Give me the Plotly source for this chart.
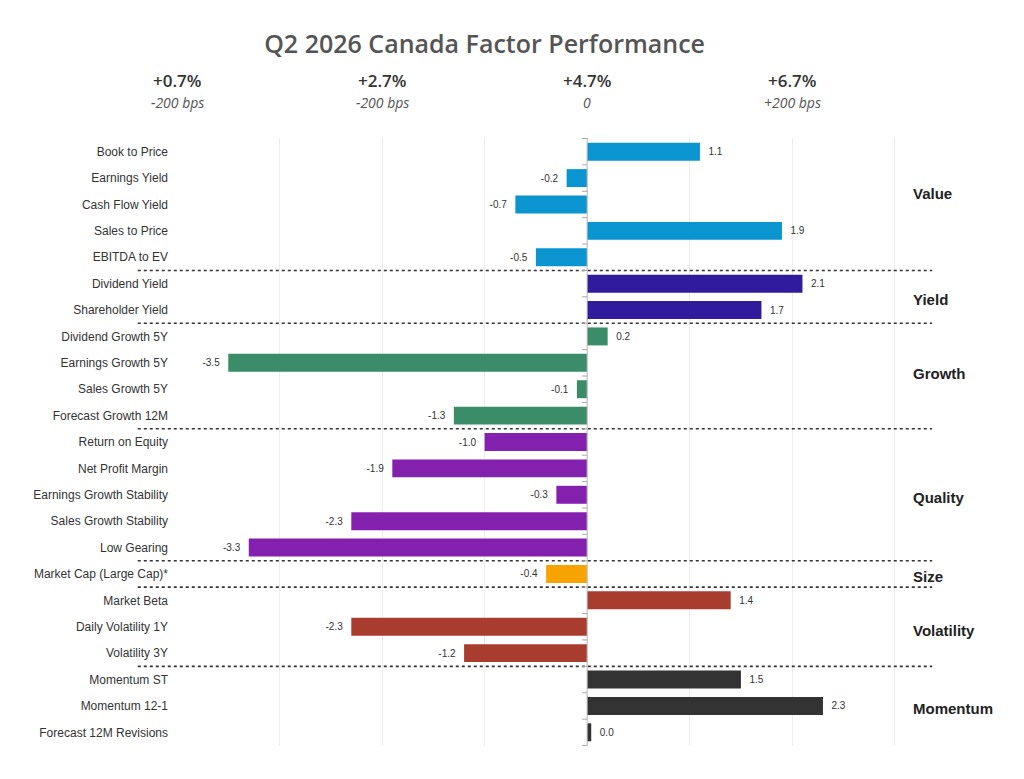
import plotly.graph_objects as go

# factor names, top to bottom
factors = [
    "Book to Price", "Earnings Yield", "Cash Flow Yield", "Sales to Price", "EBITDA to EV",
    "Dividend Yield", "Shareholder Yield",
    "Dividend Growth 5Y", "Earnings Growth 5Y", "Sales Growth 5Y", "Forecast Growth 12M",
    "Return on Equity", "Net Profit Margin", "Earnings Growth Stability", "Sales Growth Stability", "Low Gearing",
    "Market Cap (Large Cap)*",
    "Market Beta", "Daily Volatility 1Y", "Volatility 3Y",
    "Momentum ST", "Momentum 12-1", "Forecast 12M Revisions",
]
values = [
    1.1, -0.2, -0.7, 1.9, -0.5,
    2.1, 1.7,
    0.2, -3.5, -0.1, -1.3,
    -1.0, -1.9, -0.3, -2.3, -3.3,
    -0.4,
    1.4, -2.3, -1.2,
    1.5, 2.3, 0.04,
]
groups = ["Value", "Yield", "Growth", "Quality", "Size", "Volatility", "Momentum"]
group_sizes = [5, 2, 4, 5, 1, 3, 3]
group_colors = ["#0A94D0", "#2F1B9C", "#3A8D68", "#8420AE", "#F7A400", "#A83C2E", "#333333"]
label_pos = [1.6, 5.6, 8.4, 13.1, 16.1, 18.15, 21.1]

# scenario header over the x axis
header_x = [-4, -2, 0, 2]
header_top = ["+0.7%", "+2.7%", "+4.7%", "+6.7%"]
header_sub = ["-200 bps", "-200 bps", "0", "+200 bps"]

colors = []
for c, n in zip(group_colors, group_sizes):
    colors += [c] * n

labels = [("  " + f"{v:.1f}") if v >= 0 else (f"{v:.1f}" + "  ") for v in values]

fig = go.Figure()
fig.add_trace(go.Bar(
    x=values, y=factors, orientation="h",
    marker=dict(color=colors, line=dict(width=0)),
    width=0.68,
    text=labels,
    textposition="outside",
    textfont=dict(size=10, color="#333333", family="Liberation Sans"),
    cliponaxis=False,
))

# dotted separators between groups
pos = -0.5
for n in group_sizes[:-1]:
    pos += n
    fig.add_shape(type="line", xref="paper", yref="y",
                  x0=-0.051, x1=0.982, y0=pos, y1=pos,
                  line=dict(color="#333333", width=1.6, dash="dot"))

# zero axis line with small ticks between rows
fig.add_shape(type="line", xref="x", yref="paper", x0=0, x1=0, y0=0, y1=1,
              line=dict(color="#bbbbbb", width=1))
for i in range(len(factors) + 1):
    fig.add_shape(type="line", xref="x", yref="y", x0=-0.05, x1=0, y0=i - 0.5, y1=i - 0.5,
                  line=dict(color="#aaaaaa", width=1))

for g, yp in zip(groups, label_pos):
    fig.add_annotation(text="<b>" + g + "</b>", x=0.955, xref="paper", y=yp, yref="y",
                       xanchor="left", yanchor="middle", showarrow=False,
                       font=dict(size=15, color="#222222", family="Liberation Sans"))

for hx, t, s in zip(header_x, header_top, header_sub):
    fig.add_annotation(text=t, x=hx, xref="x", y=1.095, yref="paper",
                       showarrow=False, yanchor="middle",
                       font=dict(size=17, color="#333333", family="Open Sans", weight=600))
    fig.add_annotation(text="<i>" + s + "</i>", x=hx, xref="x", y=1.059, yref="paper",
                       showarrow=False, yanchor="middle",
                       font=dict(size=14, color="#555555", family="Open Sans"))

fig.update_layout(
    width=1024, height=779,
    margin=dict(l=169, r=86, t=130, b=41),
    paper_bgcolor="white", plot_bgcolor="white",
    showlegend=False,
    title=dict(text="Q2 2026 Canada Factor Performance", x=0.40, xref="paper", xanchor="center",
               y=1 - 36 / 779, yref="container", yanchor="middle",
               font=dict(size=25, color="#555555", family="Open Sans", weight=600)),
    xaxis=dict(range=[-4, 3.5], dtick=1, showgrid=True, gridcolor="#ececec", gridwidth=1,
               zeroline=False, showticklabels=False, showline=False, fixedrange=True),
    yaxis=dict(autorange="reversed", showgrid=False, zeroline=False, showline=False,
               tickfont=dict(size=12, color="#333333", family="Liberation Sans"),
               ticklabelstandoff=8, range=[22.5, -0.5]),
    bargap=0.32,
)

fig.write_html("out.html")
